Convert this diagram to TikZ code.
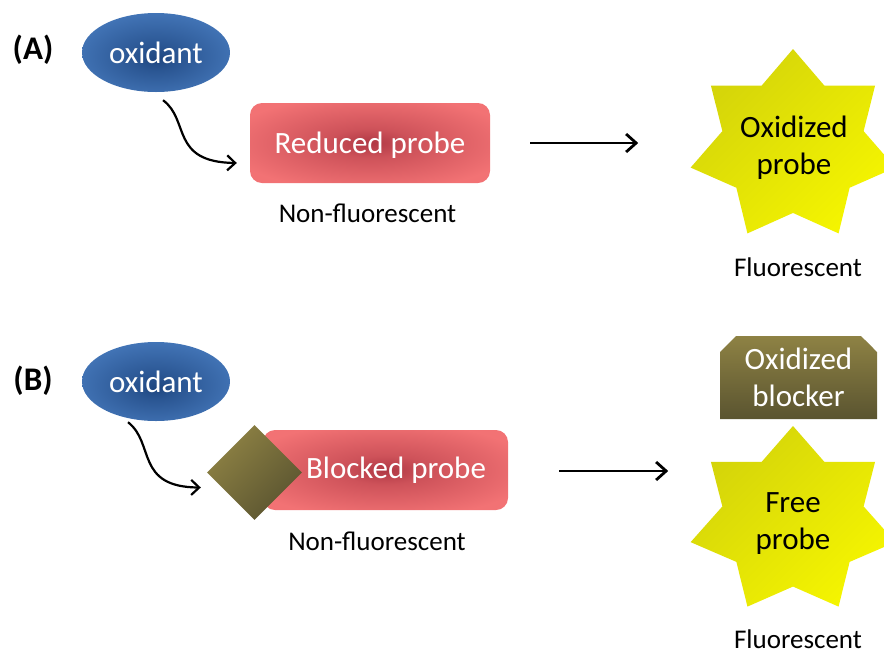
\documentclass[tikz,border=0pt]{standalone}
\usepackage{fontspec}
\setmainfont{Carlito}
\usetikzlibrary{arrows.meta,calc,shapes.geometric,shapes.misc}
\definecolor{oxout}{RGB}{66,116,182}
\definecolor{oxin}{RGB}{30,70,128}
\definecolor{prout}{RGB}{242,114,116}
\definecolor{prin}{RGB}{176,56,68}
\definecolor{olL}{RGB}{142,130,68}
\definecolor{olD}{RGB}{90,84,48}
\definecolor{stL}{RGB}{245,245,0}
\definecolor{stD}{RGB}{212,212,10}
\pgfdeclareradialshading{oxshade}{\pgfpoint{0bp}{-4bp}}{color(0bp)=(oxin); color(8bp)=(oxin!65!oxout); color(27bp)=(oxout); color(50bp)=(oxout)}
\pgfdeclareradialshading{prshade}{\pgfpoint{0bp}{0bp}}{color(0bp)=(prin); color(9bp)=(prin!55!prout); color(30bp)=(prout); color(50bp)=(prout)}
\tikzset{
  lab/.style={font=\fontsize{31}{37}\selectfont},
  small/.style={font=\fontsize{27}{32}\selectfont},
  oxnode/.style={ellipse, shading=oxshade, minimum width=148pt, minimum height=79pt, inner sep=0pt, text=white, lab},
  probebox/.style={rectangle, rounded corners=12pt, shading=prshade, minimum width=#1, minimum height=80pt, inner sep=0pt},
  starfill/.style={top color=stD, bottom color=stL, shading angle=45},
  mainarrow/.style={line width=2.8pt, -{Straight Barb[length=10pt,width=18pt]}},
  curvyarrow/.style={line width=2.2pt, -{Straight Barb[length=8pt,width=15pt]}},
}
\begin{document}
\begin{tikzpicture}[x=1pt,y=-1pt]
\useasboundingbox (0,0) rectangle (884,649);
\clip (0,0) rectangle (884,649);
% ---------- (A) ----------
\node[font=\fontsize{33}{37}\selectfont\bfseries] (labA) at (33,50) {(A)};
\node[oxnode] (oxA) at (156,52.5) {oxidant};
\node[probebox=240pt] (redA) at (370,143) {};
\node[lab, text=white] (redAt) at (370,145) {Reduced probe};
\node[small] (nfA) at (367.5,213) {Non-fluorescent};
\coordinate (cA1) at ($(oxA.south)+(7,8)$);
\coordinate (cA2) at ($(redA.west)+(-13,20)$);
\draw[curvyarrow] (cA1) .. controls (190,120) and (170,162) .. (cA2);
\coordinate (aA1) at ($(redA.east)+(40,0)$);
\coordinate (aA2) at ($(redA.east)+(148,0)$);
\draw[mainarrow] (aA1) -- (aA2);
\path[starfill] plot[samples at={0,...,13}]
  ({793+105*(0.845+0.155*cos(180*\x))*cos(90+\x*180/7)},
   {146-97*(0.845+0.155*cos(180*\x))*sin(90+\x*180/7)}) -- cycle;
\node[lab, align=center] (oxpA) at (794,148) {Oxidized\\probe};
\node[small] (flA) at (798,267) {Fluorescent};
% ---------- (B) ----------
\node[font=\fontsize{33}{37}\selectfont\bfseries] (labB) at (33,381) {(B)};
\node[oxnode] (oxB) at (156,381.5) {oxidant};
\node[probebox=245pt] (blkB) at (385.5,470) {};
\node[diamond, aspect=1, minimum width=95pt, minimum height=95pt, inner sep=0pt,
      top color=olL, bottom color=olD, shading angle=45] (dia) at (254.5,472.5) {};
\node[lab, text=white] (blkBt) at (396,470) {Blocked probe};
\node[small] (nfB) at (377,541) {Non-fluorescent};
\coordinate (cB1) at ($(oxB.south)+(-28,1)$);
\coordinate (cB2) at ($(dia.west)+(-6,15)$);
\draw[curvyarrow] (cB1) .. controls (155,443) and (135,487) .. (cB2);
\coordinate (aB1) at ($(blkB.east)+(51,1)$);
\coordinate (aB2) at ($(blkB.east)+(160,1)$);
\draw[mainarrow] (aB1) -- (aB2);
\node[chamfered rectangle, chamfered rectangle corners={north west,north east},
      chamfered rectangle xsep=8pt, chamfered rectangle ysep=8pt,
      minimum width=157pt, minimum height=83pt, inner sep=0pt,
      top color=olL, bottom color=olD, text=white, lab, align=center] (oxbl) at (798.5,377.5) {Oxidized\\blocker};
\path[starfill] plot[samples at={0,...,13}]
  ({793+105*(0.845+0.155*cos(180*\x))*cos(90+\x*180/7)},
   {521-95*(0.845+0.155*cos(180*\x))*sin(90+\x*180/7)}) -- cycle;
\node[lab, align=center] (frB) at (793,524) {Free\\probe};
\node[small] (flB) at (798,639) {Fluorescent};
\end{tikzpicture}
\end{document}
